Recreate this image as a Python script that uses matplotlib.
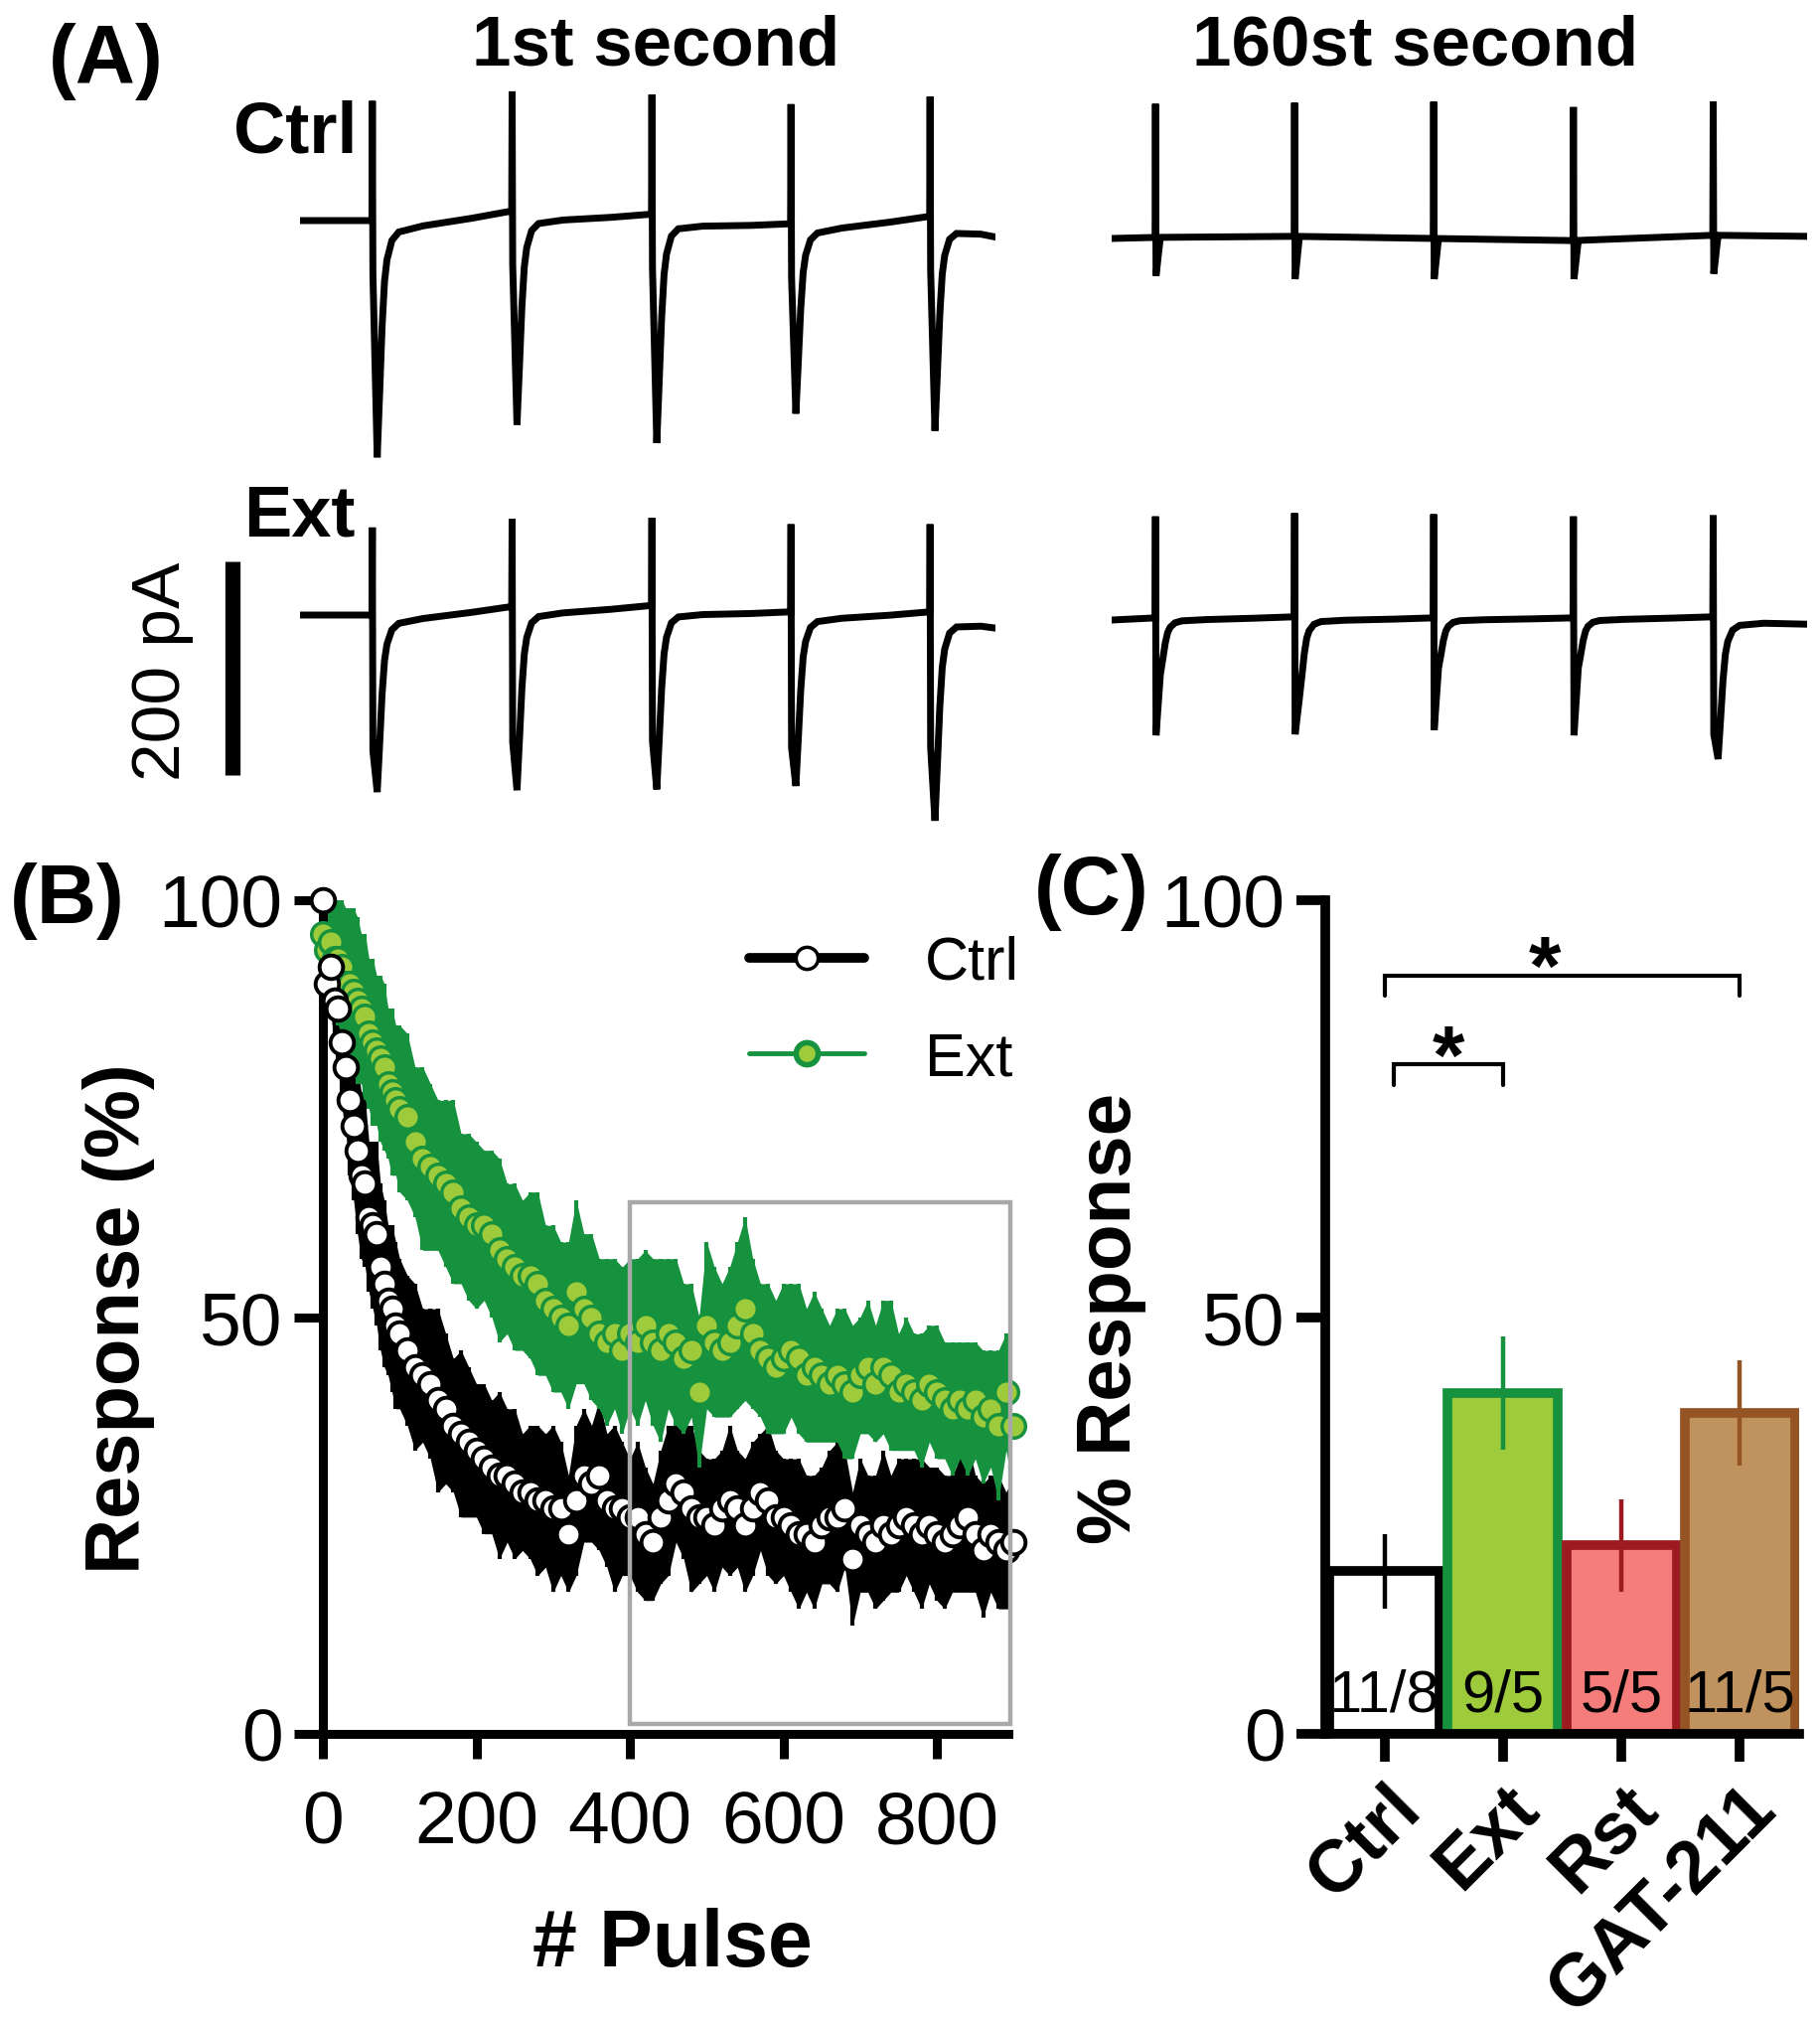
import numpy as np
import matplotlib
matplotlib.use("Agg")
import matplotlib.pyplot as plt
from matplotlib.lines import Line2D
from matplotlib.patches import Rectangle
import matplotlib.transforms as mtransforms

plt.rcParams['font.family'] = ['Liberation Sans', 'DejaVu Sans']

W, H = 1832, 2040
DPI = 100

# ------------------------------------------------------------------ Panel A data
# pulse times (s) within the 1-s sweeps
PULSE_T_1ST = [0.104, 0.305, 0.506, 0.706, 0.906]
PULSE_T_160 = [0.063, 0.263, 0.463, 0.664, 0.865]

# amplitudes in pA: stimulus artifact up / artifact down / EPSC peak
CTRL1_UP = [112, 112, 112, 112, 112]
CTRL1_ART = [-50, -50, -50, -50, -50]
CTRL1_PEAK = [-222, -200, -214, -178, -200]
CTRL1_BASE = [0, 0, 9, 6, -3, 4, -8]

CTRL160_UP = [125, 125, 128, 125, 125]
CTRL160_ART = [-36, -40, -38, -36, -36]
CTRL160_PEAK = [0, 0, 0, 0, 0]
CTRL160_BASE = [0, 1, 2, 0, -2, 3, 2]

EXT1_UP = [82, 82, 82, 82, 82]
EXT1_ART = [-127, -127, -127, -127, -127]
EXT1_PEAK = [-166, -172, -172, -163, -195]
EXT1_BASE = [0, 0, 8, 9, 3, 3, -5]

EXT160_UP = [95, 97, 97, 95, 95]
EXT160_ART = [-110, -110, -105, -110, -110]
EXT160_PEAK = [-53, -76, -47, -47, -133]
EXT160_BASE = [0, 2, 3, 2, 2, 3, 1]

# EPSC decay shape (ms after peak, fraction of peak)
EPSC_SHAPE_MS = [0, 3.5, 7, 10.5, 14, 21, 31, 66, 136]
EPSC_SHAPE_FRAC = [1.0, 0.73, 0.45, 0.26, 0.17, 0.09, 0.056, 0.037, 0.019]

SCALE_BAR_PA = 200

# ------------------------------------------------------------------ Panel B data
PULSE = list(range(0, 101, 5)) + list(range(110, 901, 10))
CTRL_MEAN = [100, 90, 92, 88, 87, 83, 80, 76, 73, 70, 67, 66, 62, 61, 60, 56, 54, 52, 51, 49, 48,
             46, 44, 43, 42, 40, 39, 37, 36, 35, 34,
             33, 32, 31, 31, 30, 29, 29, 28, 28, 27,
             27, 24, 28, 31, 30, 31, 28, 27, 27, 26,
             26, 24, 23, 26, 28, 30, 29, 27, 26, 26,
             25, 27, 28, 27, 25, 27, 29, 28, 26, 26,
             25, 24, 24, 23, 25, 26, 26, 27, 21, 25,
             24, 23, 25, 24, 25, 26, 25, 24, 25, 24,
             23, 24, 25, 26, 24, 22, 24, 23, 22, 23]
CTRL_SEM = [0, 4, 5, 6, 7, 8, 8, 9, 9, 10, 10, 10, 9, 10, 11, 10, 10, 9, 10, 10, 9,
            9, 10, 8, 9, 11, 9, 8, 10, 9, 8,
            9, 8, 10, 8, 9, 7, 8, 9, 8, 10,
            8, 7, 9, 8, 7, 9, 8, 10, 8, 7,
            9, 8, 7, 8, 9, 7, 8, 10, 8, 7,
            8, 7, 9, 7, 8, 8, 7, 9, 8, 7,
            8, 9, 7, 8, 7, 8, 9, 7, 8, 8,
            7, 8, 9, 7, 8, 7, 8, 9, 7, 8,
            8, 7, 8, 9, 7, 8, 7, 8, 7, 8]
EXT_MEAN = [96, 94, 95, 93, 93, 92, 90, 90, 89, 88, 87, 86, 84, 83, 82, 81, 80, 78, 77, 76, 75,
            74, 71, 69, 68, 67, 66, 65, 63, 62, 61,
            61, 60, 58, 57, 56, 55, 55, 54, 52, 51,
            50, 49, 53, 51, 50, 48, 47, 48, 46, 48,
            47, 49, 47, 46, 48, 47, 45, 46, 41, 49,
            47, 46, 47, 49, 51, 48, 46, 45, 44, 45,
            46, 45, 43, 44, 43, 42, 43, 42, 41, 43,
            44, 42, 44, 43, 41, 42, 41, 40, 42, 41,
            40, 39, 40, 39, 40, 38, 39, 37, 41, 37]
EXT_SEM = [0, 5, 6, 7, 8, 8, 9, 9, 10, 10, 9, 10, 9, 10, 9, 10, 10, 9, 10, 9, 10,
           10, 9, 11, 10, 9, 10, 11, 9, 10, 10,
           9, 10, 11, 9, 10, 9, 10, 11, 9, 10,
           9, 10, 11, 9, 10, 9, 10, 9, 10, 9,
           10, 9, 10, 11, 9, 10, 9, 8, 9, 10,
           9, 8, 9, 10, 11, 9, 8, 9, 8, 9,
           8, 9, 8, 9, 8, 7, 8, 9, 8, 7,
           8, 7, 8, 9, 7, 8, 7, 8, 7, 8,
           7, 8, 7, 8, 7, 8, 7, 9, 7, 8]
B_XTICKS = [0, 200, 400, 600, 800]
B_YTICKS = [0, 50, 100]
BOX_PULSE = (400, 895)
BOX_RESP = (1.2, 63.8)

# ------------------------------------------------------------------ Panel C data
GROUPS = ['Ctrl', 'Ext', 'Rst', 'GAT-211']
C_MEAN = [19.5, 40.9, 22.6, 38.5]
C_SEM = [4.5, 6.8, 5.5, 6.3]
N_LABELS = ['11/8', '9/5', '5/5', '11/5']
FILLS = ['#ffffff', '#9dcb3b', '#f47d7b', '#c0925e']
EDGES = ['#000000', '#16923f', '#9b1b20', '#955423']
SIG_PAIRS = [(0, 1, 80.3, '*'), (0, 3, 91.0, '*')]

GREEN = '#16923f'
LIGHTGREEN = '#9dcb3b'

fig = plt.figure(figsize=(W / DPI, H / DPI), dpi=DPI)


def fx(px):
    return px / W


def fy(py):
    return 1 - py / H


# ------------------------------------------------------------------ Panel A
PX_PER_PA = 1.075
PX_PER_S = 700


def trace_axes(left_px, base_px, ylo=-260, yhi=140):
    top = base_px - yhi * PX_PER_PA
    bot = base_px - ylo * PX_PER_PA
    ax = fig.add_axes([fx(left_px), fy(bot), PX_PER_S / W, (bot - top) / H])
    ax.set_xlim(0, 1)
    ax.set_ylim(ylo, yhi)
    ax.axis('off')
    return ax


def build_trace(pulse_t, up, art, peak, base_v):
    base_t = [0.0] + list(pulse_t) + [1.0]
    ts, offs = [0.0], [0.0]
    for tp, u, a, p in zip(pulse_t, up, art, peak):
        ts += [tp - 0.0006, tp, tp + 0.0008]
        offs += [0.0, u, a]
        for ms, fr in zip(EPSC_SHAPE_MS, EPSC_SHAPE_FRAC):
            ts.append(tp + 0.007 + ms / 1000.0)
            offs.append(p * fr)
    ts = np.array(ts)
    offs = np.array(offs)
    keep = ts < 1.0
    ts = np.append(ts[keep], 1.0)
    offs = np.append(offs[keep], offs[keep][-1])
    ys = np.interp(ts, base_t, base_v) + offs
    return ts, ys


TRACE_LW = 5.0
traces = [
    (302, 223, PULSE_T_1ST, CTRL1_UP, CTRL1_ART, CTRL1_PEAK, CTRL1_BASE),
    (1119, 241, PULSE_T_160, CTRL160_UP, CTRL160_ART, CTRL160_PEAK, CTRL160_BASE),
    (302, 620, PULSE_T_1ST, EXT1_UP, EXT1_ART, EXT1_PEAK, EXT1_BASE),
    (1119, 625, PULSE_T_160, EXT160_UP, EXT160_ART, EXT160_PEAK, EXT160_BASE),
]
trace_axes_list = []
for left, base, pt, up, art, pk, bv in traces:
    ax = trace_axes(left, base)
    t, y = build_trace(pt, up, art, pk, bv)
    ax.plot(t, y, color='black', lw=TRACE_LW, solid_joinstyle='miter')
    trace_axes_list.append(ax)

# scale bar on the Ext 1st-second axes
ax_ext1 = trace_axes_list[2]
ax_ext1.plot([-0.097, -0.097], [-150, -150 + SCALE_BAR_PA], color='black', lw=11,
             solid_capstyle='butt', clip_on=False)
fig.text(fx(163), fy(676), '%d pA' % SCALE_BAR_PA, rotation=90, ha='center', va='center',
         fontsize=50)

fig.text(fx(49), fy(62), '(A)', fontsize=60, fontweight='bold', ha='left', va='center')
fig.text(fx(660), fy(48), '1st second', fontsize=51, fontweight='bold', ha='center', va='center')
fig.text(fx(1425), fy(48), '160st second', fontsize=51, fontweight='bold', ha='center', va='center')
fig.text(fx(360), fy(134), 'Ctrl', fontsize=52, fontweight='bold', ha='right', va='center')
fig.text(fx(358), fy(520), 'Ext', fontsize=52, fontweight='bold', ha='right', va='center')

# ------------------------------------------------------------------ Panel B
SPINE_LW = 6.5
ax_b = fig.add_axes([fx(325), fy(1746), (1015 - 325) / W, (1746 - 907) / H])
ax_b.set_xlim(0, 893)
ax_b.set_ylim(0, 100)
for s in ['top', 'right']:
    ax_b.spines[s].set_visible(False)
for s in ['left', 'bottom']:
    ax_b.spines[s].set_linewidth(SPINE_LW)
    ax_b.spines[s].set_capstyle('projecting')
ax_b.set_xticks(B_XTICKS)
ax_b.set_yticks(B_YTICKS)
ax_b.tick_params(axis='y', length=21, width=SPINE_LW, labelsize=54, pad=8)
ax_b.tick_params(axis='x', length=18, width=SPINE_LW, labelsize=54, pad=22)

pulse = np.array(PULSE)
cm, cs = np.array(CTRL_MEAN, float), np.array(CTRL_SEM, float)
em, es = np.array(EXT_MEAN, float), np.array(EXT_SEM, float)

ax_b.fill_between(pulse, cm - cs, np.minimum(cm + cs, 100), color='black', lw=0, zorder=1)
ax_b.errorbar(pulse, cm, yerr=cs, fmt='none', ecolor='black', elinewidth=3, capsize=0, zorder=1.5)
ax_b.fill_between(pulse, em - es, np.minimum(em + es, 100), color=GREEN, lw=0, zorder=2)
ax_b.errorbar(pulse, em, yerr=es, fmt='none', ecolor=GREEN, elinewidth=3, capsize=0, zorder=2.5)
ax_b.plot(pulse, em, 'o', ms=17, mfc=LIGHTGREEN, mec=GREEN, mew=2.5, ls='none', zorder=3,
          clip_on=False)
ax_b.plot(pulse, cm, 'o', ms=17, mfc='white', mec='black', mew=2.8, ls='none', zorder=4,
          clip_on=False)
ax_b.add_patch(Rectangle((BOX_PULSE[0], BOX_RESP[0]), BOX_PULSE[1] - BOX_PULSE[0],
                         BOX_RESP[1] - BOX_RESP[0], fill=False, edgecolor='#a8a8a8', lw=3.2,
                         zorder=5, clip_on=False))

h1 = Line2D([], [], color='black', lw=7, marker='o', ms=16, mfc='white', mec='black', mew=2.5,
            solid_capstyle='round')
h2 = Line2D([], [], color=GREEN, lw=3.5, marker='o', ms=16, mfc=LIGHTGREEN, mec=GREEN, mew=4,
            solid_capstyle='round')
ax_b.legend([h1, h2], ['Ctrl', 'Ext'], loc='upper left', bbox_to_anchor=(fx(754), fy(942)),
            bbox_transform=fig.transFigure, frameon=False, fontsize=44, handlelength=1.9,
            handletextpad=1.0, labelspacing=0.65, borderpad=0, borderaxespad=0)

fig.text(fx(10), fy(907), '(B)', fontsize=60, fontweight='bold', ha='left', va='center')
fig.text(fx(120), fy(1327), 'Response (%)', rotation=90, fontsize=56, fontweight='bold',
         ha='center', va='center')
fig.text(fx(677), fy(1958), '# Pulse', fontsize=58, fontweight='bold', ha='center', va='center')

# ------------------------------------------------------------------ Panel C
ax_c = fig.add_axes([fx(1334), fy(1746), (1811 - 1334) / W, (1746 - 907) / H])
ax_c.set_xlim(-0.5, 3.5)
ax_c.set_ylim(0, 100)
for s in ['top', 'right']:
    ax_c.spines[s].set_visible(False)
for s in ['left', 'bottom']:
    ax_c.spines[s].set_linewidth(SPINE_LW + 0.5)
    ax_c.spines[s].set_capstyle('projecting')
xc = np.arange(len(GROUPS))
ax_c.bar(xc, C_MEAN, width=0.93, color=FILLS, edgecolor=EDGES, linewidth=7, zorder=2)
for i in range(len(GROUPS)):
    ax_c.errorbar(xc[i], C_MEAN[i], yerr=C_SEM[i], fmt='none', ecolor=EDGES[i], elinewidth=3.2,
                  capsize=0, zorder=3)
    ax_c.text(xc[i], 1.4, N_LABELS[i], ha='center', va='bottom', fontsize=43, zorder=4)

for a, b, yb, lab in SIG_PAIRS:
    xa = a + (0.08 if b - a == 1 else 0.0)
    xs = (xa + b) / 2 - (0.15 if b - a > 1 else 0.0)
    ax_c.plot([xa, xa, b, b], [yb - 2.5, yb, yb, yb - 2.5], color='black', lw=3,
              solid_capstyle='round', solid_joinstyle='miter', zorder=4)
    ax_c.text(xs, yb - 2.2, lab, ha='center', va='baseline', fontsize=60,
              fontweight='bold', zorder=4)

ax_c.set_yticks(B_YTICKS)
ax_c.set_xticks(xc)
ax_c.set_xticklabels(GROUPS, rotation=45, ha='right', va='top', rotation_mode='anchor',
                     fontsize=53, fontweight='bold')
offset = mtransforms.ScaledTranslation(4 / DPI, 0, fig.dpi_scale_trans)
for lbl in ax_c.get_xticklabels():
    lbl.set_transform(lbl.get_transform() + offset)
ax_c.tick_params(axis='y', length=21, width=SPINE_LW + 0.5, labelsize=54, pad=8)
ax_c.tick_params(axis='x', length=20, width=SPINE_LW + 0.5, pad=8)

fig.text(fx(1041), fy(898), '(C)', fontsize=60, fontweight='bold', ha='left', va='center')
fig.text(fx(1119), fy(1327), '% Response', rotation=90, fontsize=55, fontweight='bold',
         ha='center', va='center')

fig.savefig('out.png', dpi=DPI)
